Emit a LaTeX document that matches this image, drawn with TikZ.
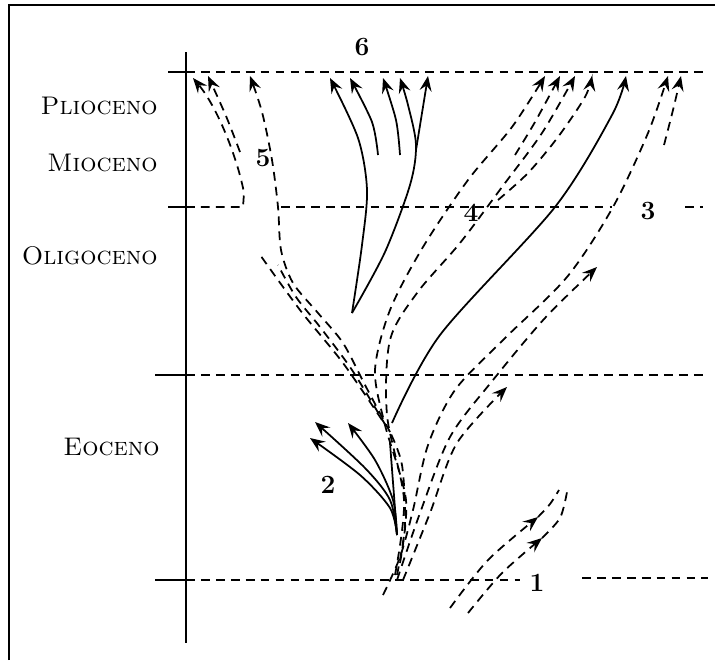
\documentclass[tikz,border=0pt]{standalone}
\usetikzlibrary{arrows.meta}

\tikzset{
  lin/.style={line width=1pt},
  dashline/.style={line width=1pt, dash pattern=on 5pt off 3.5pt},
  endtip/.style={-{Stealth[length=3mm,width=2.4mm,inset=1.1mm]}},
  era/.style={anchor=east, inner sep=0pt, font=\fontsize{14.5}{16}\selectfont\scshape},
  num/.style={inner sep=0pt, font=\fontsize{15}{17}\selectfont\bfseries},
}

\begin{document}
\begin{tikzpicture}[x=0.02cm, y=-0.02cm]
		\useasboundingbox (0,0) rectangle (715,660);
		
		% Frame (top and left only)
		\draw[line width=1.4pt] (9,660) -- (9,5) -- (715,5);
		
		% Time axis
		\draw[lin] (186,52) -- (186,643);
		
		% Boundaries between epochs
		\draw[lin] (168,72) -- (186,72);
		\draw[dashline] (186,72) -- (703,72);
		\draw[lin] (168,207) -- (186,207);
		\draw[dashline] (281,207) -- (612,207);
		\draw[dashline] (685,207) -- (703,207);
		\draw[lin] (155,375) -- (186,375);
		\draw[dashline] (186,375) -- (705,375);
		\draw[lin] (155,580) -- (186,580);
		\draw[dashline] (186,580) -- (520,580);
		\draw[dashline] (582,578) -- (708,578);
		
		% Epoch names
		\node[era] (plio) at (158,106) {Plioceno};
		\node[era] (mio) at (158,163) {Mioceno};
		\node[era] (oligo) at (158,256) {Oligoceno};
		\node[era] (eo) at (160,447) {Eoceno};
		
		% Lineage numbers
		\node[num] (n1) at (537,583) {1};
		\node[num] (n2) at (328,485) {2};
		\node[num] (n3) at (648,211) {3};
		\node[num] (n4) at (471,213) {4};
		\node[num] (n5) at (263,158) {5};
		\node[num] (n6) at (362,47) {6};
		
		% 1: two short lineages, arrows half way
		\draw[dashline, endtip] plot[smooth] coordinates {(450,608) (488,560) (538,517)};
		\draw[dashline] plot[smooth] coordinates {(538,517) (550,504) (559,490)};
		\draw[dashline, endtip] plot[smooth] coordinates {(468,613) (502,573) (542,538)};
		\draw[dashline] plot[smooth] coordinates {(542,538) (560,518) (567,492)};
		
		% 2: short bush in the Eocene
		\draw[lin, endtip] plot[smooth] coordinates {(397,535) (390,508) (360,475) (310,438)};
		\draw[lin, endtip] plot[smooth] coordinates {(397,535) (390,500) (365,468) (315,422)};
		\draw[lin, endtip] plot[smooth] coordinates {(397,535) (393,500) (375,460) (348,423)};
		\draw[lin] (397,535) -- (390,443);
		
		% 3: long lineages to the right
		\draw[lin, endtip] plot[smooth] coordinates {(392,423) (440,335) (555,207) (612,115) (626,76)};
		\draw[dashline, endtip] plot[smooth] coordinates {(383,595) (400,557) (413,510) (428,445) (455,390) (503,340) (567,277) (613,207) (648,133) (668,76)};
		\draw[dashline, endtip] plot[smooth] coordinates {(397,580) (420,513) (450,437) (493,380) (545,318) (597,267)};
		\draw[dashline, endtip] plot[smooth] coordinates {(403,580) (430,513) (457,443) (507,387)};
		\draw[dashline, endtip] plot[smooth] coordinates {(664,145) (673,110) (681,76)};
		
		% 4: fan towards the upper right
		\draw[dashline, endtip] plot[smooth] coordinates {(400,563) (406,500) (385,425) (375,370) (390,310) (423,247) (468,180) (512,127) (545,76)};
		\draw[dashline, endtip] plot[smooth] coordinates {(395,575) (404,500) (387,415) (390,340) (417,293) (460,243) (502,187) (542,133) (575,76)};
		\draw[dashline, endtip] plot[smooth] coordinates {(515,155) (535,122) (560,76)};
		\draw[dashline, endtip] plot[smooth] coordinates {(498,200) (528,173) (558,137) (585,97) (592,76)};
		
		% 5: fan towards the upper left
		\draw[dashline] plot[smooth] coordinates {(397,575) (405,525) (402,465) (390,432)};
		\draw[dashline] plot[smooth] coordinates {(382,420) (343,363) (300,310) (258,252)};
		\draw[dashline, endtip] plot[smooth] coordinates {(390,432) (365,385) (343,343) (318,313) (293,283) (281,250) (278,207) (272,160) (262,112) (250,76)};
		\draw[dashline] plot[smooth] coordinates {(386,426) (352,370) (320,327) (296,297) (278,265)};
		\draw[dashline, endtip] (186,207) -- (243,207) -- (244,193) .. controls (238,160) and (218,108) .. (193,78);
		\draw[dashline, endtip] plot[smooth] coordinates {(240,152) (226,116) (208,76)};
		
		% 6: bush at the top
		\draw[lin, endtip] plot[smooth] coordinates {(352,313) (362,245) (367,190) (358,138) (330,78)};
		\draw[lin, endtip] plot[smooth] coordinates {(352,313) (385,252) (410,185) (416,145) (408,105) (400,78)};
		\draw[lin, endtip] (416,150) -- (428,76);
		\draw[lin, endtip] plot[smooth] coordinates {(378,155) (372,122) (350,78)};
		\draw[lin, endtip] plot[smooth] coordinates {(400,155) (396,120) (383,78)};
		
	\end{tikzpicture}
\end{document}
